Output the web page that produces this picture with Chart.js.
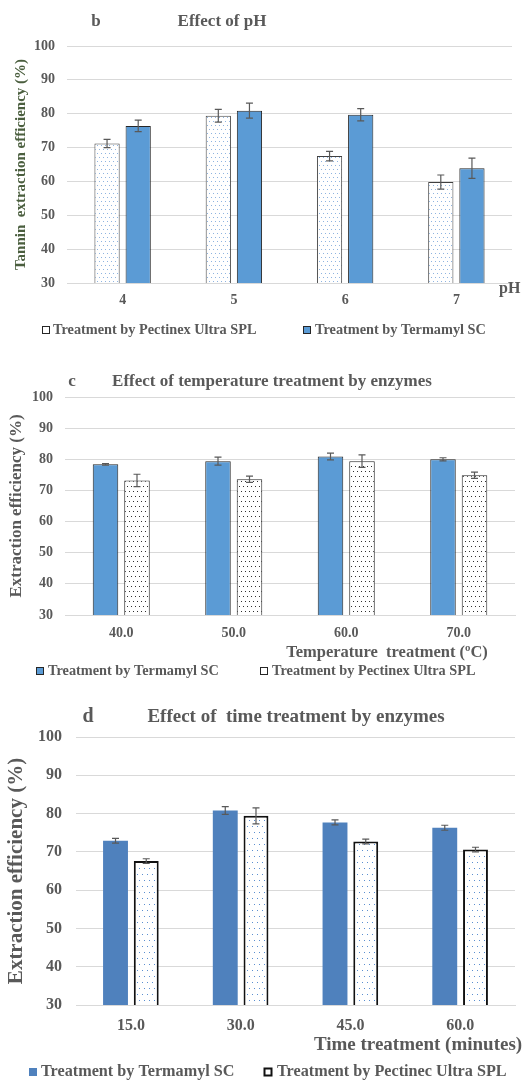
<!DOCTYPE html>
<html>
<head>
<meta charset="utf-8">
<script src="https://cdn.jsdelivr.net/npm/chart.js@4.4.1/dist/chart.umd.min.js"></script>
<style>
  body { margin: 0; background: #fff; }
  canvas { position: absolute; left: 0; }
</style>
</head>
<body>
<canvas id="chartB" style="top:0px" width="531" height="340"></canvas>
<canvas id="chartC" style="top:340px" width="531" height="340"></canvas>
<canvas id="chartD" style="top:680px" width="531" height="401"></canvas>
<script>
// b - effect of pH
const phLabels = ['4', '5', '6', '7'];
const phPectinex = [71.2, 79.4, 67.5, 59.8];
const phPectinexErr = [1.2, 1.9, 1.4, 2.1];
const phTermamyl = [76.4, 80.9, 79.7, 63.9];
const phTermamylErr = [1.7, 2.2, 1.8, 3.0];

// c - temperature
const tempLabels = ['40.0', '50.0', '60.0', '70.0'];
const tempTermamyl = [78.4, 79.4, 80.9, 80.0];
const tempTermamylErr = [0.25, 1.3, 1.1, 0.5];
const tempPectinex = [73.2, 73.6, 79.4, 74.9];
const tempPectinexErr = [2.0, 1.0, 2.0, 1.0];

// d - time
const timeLabels = ['15.0', '30.0', '45.0', '60.0'];
const timeTermamyl = [72.9, 80.8, 77.7, 76.3];
const timeTermamylErr = [0.6, 1.0, 0.65, 0.65];
const timePectinec = [67.6, 79.4, 72.7, 70.6];
const timePectinecErr = [0.6, 2.1, 0.6, 0.6];

const yTicks = [30, 40, 50, 60, 70, 80, 90, 100];

const SERIF = "'Liberation Serif', 'Times New Roman', serif";
const GREY = '#595959';
const W = 531;

function dots(color, w, h, pts) {
  const c = document.createElement('canvas');
  c.width = w; c.height = h;
  const g = c.getContext('2d');
  g.fillStyle = '#fff';
  g.fillRect(0, 0, w, h);
  g.fillStyle = color;
  pts.forEach(p => g.fillRect(p[0], p[1], 1, 1));
  return g.createPattern(c, 'repeat');
}

const errorBars = {
  id: 'errorBars',
  afterDatasetsDraw(chart) {
    const ctx = chart.ctx, y = chart.scales.y;
    chart.data.datasets.forEach((ds, i) => {
      const meta = chart.getDatasetMeta(i);
      meta.data.forEach((bar, j) => {
        const top = y.getPixelForValue(ds.data[j] + ds.errors[j]);
        const bot = y.getPixelForValue(ds.data[j] - ds.errors[j]);
        ctx.save();
        ctx.strokeStyle = GREY;
        ctx.lineWidth = 1.2;
        ctx.beginPath();
        ctx.moveTo(bar.x, top); ctx.lineTo(bar.x, bot);
        ctx.moveTo(bar.x - 3.5, top); ctx.lineTo(bar.x + 3.5, top);
        ctx.moveTo(bar.x - 3.5, bot); ctx.lineTo(bar.x + 3.5, bot);
        ctx.stroke();
        ctx.restore();
      });
    });
  }
};

// extra texts + legend, drawn on the canvas
function decor(texts, legend) {
  return {
    id: 'decor',
    afterDraw(chart) {
      const ctx = chart.ctx;
      ctx.save();
      ctx.textBaseline = 'middle';
      texts.forEach(t => {
        ctx.font = 'bold ' + t.size + 'px ' + SERIF;
        ctx.fillStyle = t.color || GREY;
        ctx.textAlign = t.align || 'left';
        ctx.fillText(t.text, t.x, t.y);
      });
      ctx.font = 'bold ' + legend.size + 'px ' + SERIF;
      ctx.textAlign = 'left';
      legend.items.forEach(it => {
        const s = legend.box;
        ctx.fillStyle = it.fill;
        ctx.fillRect(it.boxX, legend.y - s / 2, s, s);
        if (it.stroke) {
          ctx.strokeStyle = it.stroke;
          ctx.lineWidth = it.lw || 1;
          ctx.strokeRect(it.boxX + 0.5, legend.y - s / 2 + 0.5, s - 1, s - 1);
        }
        ctx.fillStyle = GREY;
        ctx.fillText(it.label, it.textX, legend.y);
      });
      ctx.restore();
    }
  };
}

function makePanel(id, o) {
  return new Chart(document.getElementById(id), {
    type: 'bar',
    data: { labels: o.labels, datasets: o.datasets },
    options: {
      responsive: false,
      animation: false,
      layout: { padding: { top: o.area.top, right: W - o.area.right, bottom: o.padBottom, left: 0 } },
      datasets: { bar: { categoryPercentage: 0.56, barPercentage: 0.81 } },
      plugins: { legend: { display: false }, tooltip: { enabled: false } },
      scales: {
        x: {
          grid: { display: false, drawTicks: false },
          border: { color: '#d9d9d9' },
          ticks: { color: GREY, padding: o.xPad, font: { family: SERIF, size: o.tick, weight: 'bold' } },
          afterFit(s) { s.height = o.xHeight; }
        },
        y: {
          min: 30, max: 100,
          afterBuildTicks(s) { s.ticks = yTicks.map(v => ({ value: v })); },
          grid: { color: '#d9d9d9', drawTicks: false },
          border: { display: false },
          ticks: { color: GREY, padding: o.yPad, font: { family: SERIF, size: o.tick, weight: 'bold' } },
          title: {
            display: true, text: o.yTitle, color: o.yTitleColor || GREY,
            padding: { top: o.yTitlePad, bottom: 0 },
            font: { family: SERIF, size: o.yTitleSize, weight: 'bold' }
          },
          afterFit(s) { s.width = o.area.left; }
        }
      }
    },
    plugins: [errorBars, decor(o.texts, o.legend)]
  });
}

const dotsB = dots('#8fb4e0', 8, 8, [[1, 1], [5, 1], [3, 5], [7, 5]]);
const dotsC = dots('#303030', 8, 10, [[1, 1], [5, 1], [3, 6], [7, 6]]);
const dotsD = dots('#5b8fd0', 10, 12, [[2, 2], [7, 2], [4, 8], [9, 8]]);

makePanel('chartB', {
  labels: phLabels,
  area: { left: 67, right: 512, top: 46 },
  padBottom: 27, xHeight: 30, xPad: 9, yPad: 12, tick: 14,
  yTitle: 'Tannin  extraction efficiency (%)', yTitleSize: 15, yTitlePad: 12, yTitleColor: '#4a5e3e',
  datasets: [
    { label: 'Treatment by Pectinex Ultra SPL', data: phPectinex, errors: phPectinexErr,
      backgroundColor: dotsB, borderColor: '#404040', borderWidth: 1 },
    { label: 'Treatment by Termamyl SC', data: phTermamyl, errors: phTermamylErr,
      backgroundColor: '#5b9bd5', borderColor: '#262626', borderWidth: 1 }
  ],
  texts: [
    { text: 'b', x: 96, y: 22, size: 17, align: 'center' },
    { text: 'Effect of pH', x: 222, y: 22, size: 17, align: 'center' },
    { text: 'pH', x: 499, y: 289, size: 16 }
  ],
  legend: { y: 330, size: 14.3, box: 8, items: [
    { label: 'Treatment by Pectinex Ultra SPL', fill: '#fff', stroke: '#262626', boxX: 42, textX: 53 },
    { label: 'Treatment by Termamyl SC', fill: '#5b9bd5', stroke: '#262626', boxX: 303, textX: 315 }
  ] }
});

makePanel('chartC', {
  labels: tempLabels,
  area: { left: 65, right: 515, top: 57 },
  padBottom: 35, xHeight: 30, xPad: 10, yPad: 12, tick: 14,
  yTitle: 'Extraction efficiency (%)', yTitleSize: 17, yTitlePad: 6,
  datasets: [
    { label: 'Treatment by Termamyl SC', data: tempTermamyl, errors: tempTermamylErr,
      backgroundColor: '#5b9bd5', borderColor: '#262626', borderWidth: 1 },
    { label: 'Treatment by Pectinex Ultra SPL', data: tempPectinex, errors: tempPectinexErr,
      backgroundColor: dotsC, borderColor: '#262626', borderWidth: 1 }
  ],
  texts: [
    { text: 'c', x: 72, y: 42, size: 17, align: 'center' },
    { text: 'Effect of temperature treatment by enzymes', x: 272, y: 42, size: 17, align: 'center' },
    { text: 'Temperature  treatment (ºC)', x: 387, y: 313, size: 16.5, align: 'center' }
  ],
  legend: { y: 331, size: 14.3, box: 8, items: [
    { label: 'Treatment by Termamyl SC', fill: '#5b9bd5', stroke: '#262626', boxX: 36, textX: 48 },
    { label: 'Treatment by Pectinex Ultra SPL', fill: '#fff', stroke: '#262626', boxX: 260, textX: 272 }
  ] }
});

makePanel('chartD', {
  labels: timeLabels,
  area: { left: 76, right: 515, top: 57 },
  padBottom: 46, xHeight: 30, xPad: 11, yPad: 14, tick: 16,
  yTitle: 'Extraction efficiency (%)', yTitleSize: 21, yTitlePad: 4,
  datasets: [
    { label: 'Treatment by Termamyl SC', data: timeTermamyl, errors: timeTermamylErr,
      backgroundColor: '#4f81bd', borderWidth: 0 },
    { label: 'Treatment by Pectinec Ultra SPL', data: timePectinec, errors: timePectinecErr,
      backgroundColor: dotsD, borderColor: '#111', borderWidth: 2 }
  ],
  texts: [
    { text: 'd', x: 88, y: 37, size: 20, align: 'center' },
    { text: 'Effect of  time treatment by enzymes', x: 296, y: 37, size: 19, align: 'center' },
    { text: 'Time treatment (minutes)', x: 418, y: 365, size: 19, align: 'center' }
  ],
  legend: { y: 392, size: 16.2, box: 8, items: [
    { label: 'Treatment by Termamyl SC', fill: '#4f81bd', boxX: 29, textX: 41 },
    { label: 'Treatment by Pectinec Ultra SPL', fill: '#fff', stroke: '#111', lw: 2, boxX: 264, textX: 277 }
  ] }
});
</script>
</body>
</html>
